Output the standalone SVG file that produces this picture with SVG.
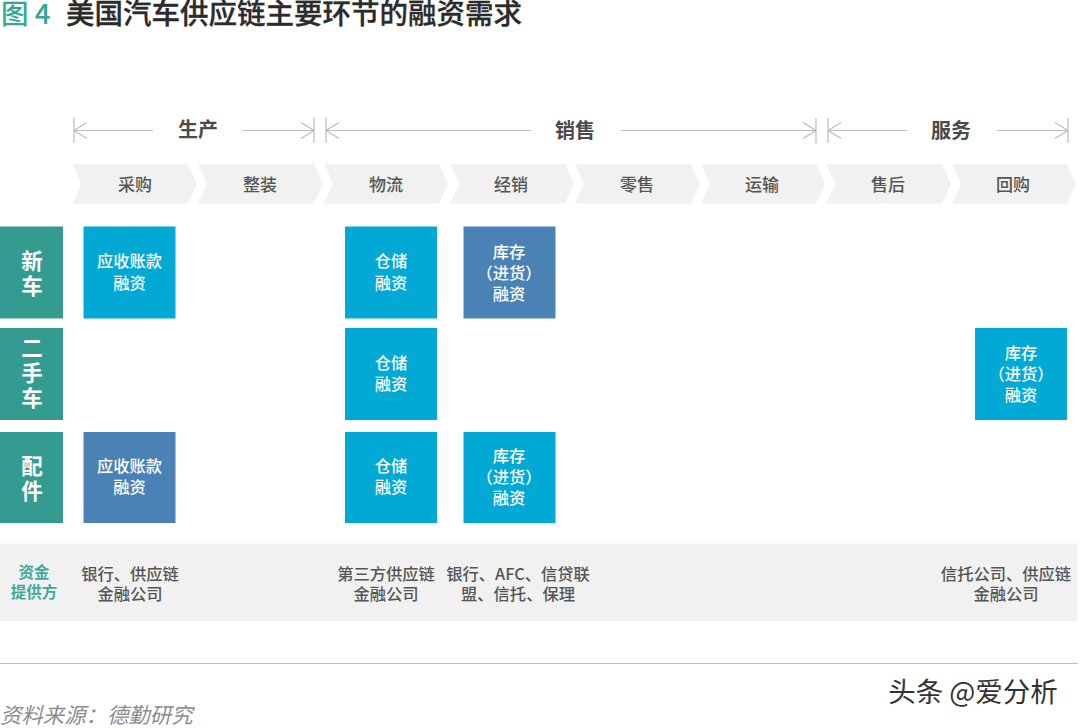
<svg xmlns="http://www.w3.org/2000/svg" width="1080" height="728" viewBox="0 0 1080 728">
<defs>
<style>
text{font-family:"Noto Sans CJK SC","Noto Sans",sans-serif;text-anchor:middle}
.t{font-size:17px;font-weight:500;fill:#555}
.h{font-size:20px;font-weight:700;fill:#4a4a4a}
.w{font-size:16.300px;font-weight:500;fill:#fff}
.r{font-size:21.500px;font-weight:700;fill:#fff}
.s{font-size:16.300px;font-weight:500;fill:#555}
.f{font-size:15.500px;font-weight:700;fill:#3fa99b}
.g{fill:#f1f1f1}
.c{fill:#02a9d4}
.d{fill:#4b82b6}
.e{fill:#339b8f}
.l{stroke:#bcbcbc;stroke-width:1.200;fill:none}
</style>
</defs>
<rect width="1080" height="728" fill="#fff"/>
<g id="title">
<text x="1" y="24" style="text-anchor:start;font-size:27.500px;font-weight:500;fill:#2fa899">图 4</text>
<text x="66" y="24" style="text-anchor:start;font-size:28.500px;font-weight:500;fill:#2b2b2b;stroke:#2b2b2b;stroke-width:.3">美国汽车供应链主要环节的融资需求</text>
</g>
<g id="connectors" class="l">
<path d="M74 118V143M74 130.500H153M74 130.500l13-8M74 130.500l13 8"/>
<path d="M314 118V143M243 130.500H314M314 130.500l-13-8M314 130.500l-13 8"/>
<path d="M326 118V143M326 130.500H531M326 130.500l13-8M326 130.500l13 8"/>
<path d="M816 118V143M621 130.500H816M816 130.500l-13-8M816 130.500l-13 8"/>
<path d="M828 118V143M828 130.500H907M828 130.500l13-8M828 130.500l13 8"/>
<path d="M1068 118V143M997 130.500H1068M1068 130.500l-13-8M1068 130.500l-13 8"/>
</g>
<g id="phase-prod"><text class="h" x="198" y="137">生产</text></g>
<g id="phase-sales"><text class="h" x="575" y="138">销售</text></g>
<g id="phase-service"><text class="h" x="951" y="138">服务</text></g>
<g id="step1"><path class="g" d="M73 164H188L197 184L188 203.500H73L81 184Z"/><text class="t" x="135" y="191">采购</text></g>
<g id="step2"><path class="g" d="M198 164H314L323 184L314 203.500H198L207 184Z"/><text class="t" x="260" y="191">整装</text></g>
<g id="step3"><path class="g" d="M324 164H439L448 184L439 203.500H324L333 184Z"/><text class="t" x="386" y="191">物流</text></g>
<g id="step4"><path class="g" d="M450 164H565L574 184L565 203.500H450L459 184Z"/><text class="t" x="511" y="191">经销</text></g>
<g id="step5"><path class="g" d="M575 164H691L700 184L691 203.500H575L584 184Z"/><text class="t" x="637" y="191">零售</text></g>
<g id="step6"><path class="g" d="M701 164H816L825 184L816 203.500H701L710 184Z"/><text class="t" x="762" y="191">运输</text></g>
<g id="step7"><path class="g" d="M826 164H942L951 184L942 203.500H826L835 184Z"/><text class="t" x="888" y="191">售后</text></g>
<g id="step8"><path class="g" d="M952 164H1067L1076 184L1067 203.500H952L961 184Z"/><text class="t" x="1013" y="191">回购</text></g>
<g id="row-new"><rect class="e" y="226.500" width="63" height="92"/><text class="r" x="32" y="269">新<tspan x="32" dy="25">车</tspan></text></g>
<g id="row-used"><rect class="e" y="328" width="63" height="92"/><text class="r" x="32" y="356">二<tspan x="32" dy="25">手</tspan><tspan x="32" dy="25">车</tspan></text></g>
<g id="row-parts"><rect class="e" y="432" width="63" height="91"/><text class="r" x="32" y="474">配<tspan x="32" dy="25">件</tspan></text></g>
<g id="n1"><rect class="c" x="83.500" y="226.500" width="92" height="92"/><text class="w" x="129.500" y="267">应收账款<tspan x="129.500" dy="22">融资</tspan></text></g>
<g id="n2"><rect class="c" x="345" y="226.500" width="92" height="92"/><text class="w" x="391" y="267">仓储<tspan x="391" dy="22">融资</tspan></text></g>
<g id="n3"><rect class="d" x="463.500" y="226.500" width="92" height="92"/><text class="w" x="509" y="258">库存<tspan x="509" dy="21">（进货）</tspan><tspan x="509" dy="21">融资</tspan></text></g>
<g id="n4"><rect class="c" x="345" y="328" width="92" height="92"/><text class="w" x="391" y="369">仓储<tspan x="391" dy="21">融资</tspan></text></g>
<g id="n5"><rect class="c" x="975" y="328" width="92" height="92"/><text class="w" x="1021" y="359">库存<tspan x="1021" dy="21">（进货）</tspan><tspan x="1021" dy="21">融资</tspan></text></g>
<g id="n6"><rect class="d" x="83.500" y="432" width="92" height="91"/><text class="w" x="129.500" y="472">应收账款<tspan x="129.500" dy="21">融资</tspan></text></g>
<g id="n7"><rect class="c" x="345" y="432" width="92" height="91"/><text class="w" x="391" y="472">仓储<tspan x="391" dy="21">融资</tspan></text></g>
<g id="n8"><rect class="c" x="463.500" y="432" width="92" height="91"/><text class="w" x="509" y="462">库存<tspan x="509" dy="21">（进货）</tspan><tspan x="509" dy="21">融资</tspan></text></g>
<g id="funders">
<rect class="g" y="543.500" width="1077" height="77.500"/>
<text class="f" x="34" y="578">资金<tspan x="34" dy="20">提供方</tspan></text>
<text class="s" x="130" y="580">银行、供应链<tspan x="130" dy="20">金融公司</tspan></text>
<text class="s" x="386" y="580">第三方供应链<tspan x="386" dy="20">金融公司</tspan></text>
<text class="s" x="518" y="580">银行、AFC、信贷联<tspan x="518" dy="20">盟、信托、保理</tspan></text>
<text class="s" x="1006" y="580">信托公司、供应链<tspan x="1006" dy="20">金融公司</tspan></text>
</g>
<path id="rule" d="M0 663.500H1078" stroke="#bdbdbd" stroke-width="1.200"/>
<text id="source" x="0" y="723" style="text-anchor:start;font-size:21.400px;font-style:italic;fill:#8c8c8c">资料来源：德勤研究</text>
<text id="mark" x="973" y="702" style="font-size:27.500px;fill:#333">头条 @爱分析</text>
</svg>
